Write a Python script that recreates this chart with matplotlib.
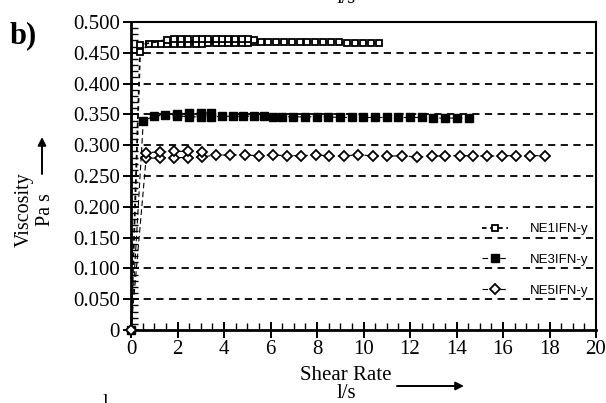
import matplotlib
matplotlib.use("Agg")
import matplotlib.pyplot as plt
from matplotlib.lines import Line2D
from matplotlib.ticker import MultipleLocator, FixedLocator, FixedFormatter

# ---- measured viscosity (Pa s) vs shear rate (1/s) ----
ne1_rate = [0, 0.39, 0.77, 1.03, 1.29, 1.53, 1.86, 2.15, 2.46, 2.78, 3.07, 3.32, 3.64, 3.90,
            4.18, 4.47, 4.76, 5.04, 5.30, 5.58, 5.90, 6.23, 6.57, 6.91, 7.25, 7.59, 7.93,
            8.27, 8.61, 8.95, 9.29, 9.63, 9.97, 10.31, 10.65]
ne1_visc = [0, 0.451, 0.464, 0.464, 0.464, 0.465, 0.465, 0.465, 0.465, 0.465, 0.465, 0.466,
            0.466, 0.466, 0.466, 0.466, 0.466, 0.466, 0.467, 0.467, 0.467, 0.467, 0.468,
            0.468, 0.468, 0.468, 0.468, 0.467, 0.467, 0.467, 0.466, 0.466, 0.466, 0.466, 0.466]
ne1_back_rate = [5.30, 5.04, 4.76, 4.47, 4.18, 3.90, 3.64, 3.32, 3.07, 2.78, 2.46, 2.15,
                 1.86, 1.53, 0.39]
ne1_back_visc = [0.471, 0.472, 0.472, 0.472, 0.473, 0.473, 0.473, 0.473, 0.472, 0.473,
                 0.472, 0.472, 0.472, 0.471, 0.463]

ne3_rate = [0, 0.53, 1.0, 1.48, 1.98, 2.5, 3.0, 3.45, 3.92, 4.38, 4.83, 5.28, 5.7, 6.1, 6.5,
            6.97, 7.48, 8.0, 8.47, 8.99, 9.5, 9.98, 10.49, 11.0, 11.48, 12.0, 12.52, 12.99,
            13.5, 14.02, 14.52]
ne3_visc = [0, 0.340, 0.347, 0.349, 0.348, 0.346, 0.346, 0.346, 0.347, 0.347, 0.347, 0.347,
            0.347, 0.346, 0.346, 0.346, 0.346, 0.346, 0.346, 0.345, 0.345, 0.345, 0.345,
            0.345, 0.345, 0.345, 0.345, 0.344, 0.344, 0.344, 0.344]
ne3_back_rate = [3.45, 3.0, 2.5, 1.98]
ne3_back_visc = [0.352, 0.353, 0.352, 0.351]

ne5_rate = [0, 0.65, 1.25, 1.85, 2.45, 3.05, 3.65, 4.25, 4.9, 5.5, 6.12, 6.72, 7.32, 7.94,
            8.5, 9.16, 9.78, 10.4, 11.0, 11.64, 12.28, 12.93, 13.5, 14.15, 14.72, 15.32,
            15.94, 16.56, 17.16, 17.8]
ne5_visc = [0, 0.279, 0.279, 0.280, 0.280, 0.281, 0.284, 0.284, 0.284, 0.283, 0.284, 0.283,
            0.283, 0.284, 0.283, 0.283, 0.284, 0.283, 0.282, 0.283, 0.281, 0.282, 0.283,
            0.283, 0.283, 0.282, 0.283, 0.283, 0.283, 0.283]
ne5_back_rate = [3.05, 2.45, 1.85, 1.25, 0.65]
ne5_back_visc = [0.289, 0.290, 0.290, 0.289, 0.288]

series_labels = ["NE1IFN-y", "NE3IFN-y", "NE5IFN-y"]
x_ticks = [0, 2, 4, 6, 8, 10, 12, 14, 16, 18, 20]
y_ticks = [0, 0.05, 0.10, 0.15, 0.20, 0.25, 0.30, 0.35, 0.40, 0.45, 0.50]
y_tick_labels = ["0", "0.050", "0.100", "0.150", "0.200", "0.250", "0.300", "0.350",
                 "0.400", "0.450", "0.500"]

SERIF = "Liberation Serif"
SANS = "Liberation Sans"
plt.rcParams["font.family"] = [SERIF, "DejaVu Serif"]

W, H = 606, 403
fig = plt.figure(figsize=(W / 100, H / 100), dpi=100)
ax = fig.add_axes([131 / W, 1 - 330 / H, (596 - 131) / W, (330 - 22) / H])

styles = [
    dict(marker="s", ms=4.6, mfc="white", mec="black", mew=1.3, color="black",
         lw=1.3, dashes=(2.5, 2.0)),
    dict(marker="s", ms=5.2, mfc="black", mec="black", mew=1.0, color="black",
         lw=0.8, dashes=(5, 3)),
    dict(marker="D", ms=4.6, mfc="white", mec="black", mew=1.3, color="black",
         lw=0.8, dashes=(5, 3)),
]
data = [
    (ne1_rate, ne1_visc, ne1_back_rate, ne1_back_visc),
    (ne3_rate, ne3_visc, ne3_back_rate, ne3_back_visc),
    (ne5_rate, ne5_visc, ne5_back_rate, ne5_back_visc),
]
for (xr, yr, xb, yb), st in zip(data, styles):
    ax.plot(xr, yr, clip_on=False, zorder=3, **st)
    ax.plot(xb, yb, clip_on=False, zorder=3, **st)

ax.set_xlim(0, 20)
ax.set_ylim(0, 0.5)
ax.xaxis.set_major_locator(FixedLocator(x_ticks))
ax.xaxis.set_minor_locator(MultipleLocator(0.5))
ax.yaxis.set_major_locator(FixedLocator(y_ticks))
ax.yaxis.set_major_formatter(FixedFormatter(y_tick_labels))
ax.yaxis.set_minor_locator(MultipleLocator(0.01))

ax.tick_params(which="major", direction="inout", length=11, width=1.4, labelsize=15,
               colors="black")
ax.tick_params(axis="y", which="major", pad=2.5)
ax.tick_params(axis="x", which="major", pad=2)
ax.tick_params(which="minor", direction="in", length=5, width=1.0)

for side in ("left", "bottom"):
    ax.spines[side].set_linewidth(2.0)
for side in ("top", "right"):
    ax.spines[side].set_linewidth(1.5)

ax.set_axisbelow(True)
for yv in y_ticks[1:-1]:
    ax.axhline(yv, color="black", lw=1.3, linestyle=(0, (4, 3)), zorder=1)

# legend
handles = [Line2D([], [], **st) for st in styles]
ax.legend(handles, series_labels, loc="upper left",
          bbox_to_anchor=(482 / W, 1 - 223 / H), bbox_transform=fig.transFigure,
          frameon=False, borderpad=0, borderaxespad=0, handlelength=2.0,
          handletextpad=1.6, labelspacing=1.4,
          prop=dict(family=SANS, size=9.5))

# axis titles with arrows
fig.text(24 / W, 1 - 210 / H, "Viscosity", rotation=90, ha="center", va="center",
         fontsize=14.5, family=SERIF)
fig.text(45 / W, 1 - 210 / H, "Pa s", rotation=90, ha="center", va="center",
         fontsize=14.5, family=SERIF)
fig.text(346 / W, 1 - 376 / H, "Shear Rate", ha="center", va="center",
         fontsize=15, family=SERIF)
fig.text(346 / W, 1 - 394 / H, "l/s", ha="center", va="center",
         fontsize=15, family=SERIF)
ax.annotate("", xy=(42, H - 137), xytext=(42, H - 174), xycoords="figure pixels",
            textcoords="figure pixels",
            arrowprops=dict(arrowstyle="-|>", color="black", lw=1.4, mutation_scale=12,
                            shrinkA=0, shrinkB=0))
ax.annotate("", xy=(464, H - 386), xytext=(397, H - 386), xycoords="figure pixels",
            textcoords="figure pixels",
            arrowprops=dict(arrowstyle="-|>", color="black", lw=1.4, mutation_scale=12,
                            shrinkA=0, shrinkB=0))

# panel letter and neighbouring panel captions at the page edges
fig.text(10 / W, 1 - 36 / H, "b)", ha="left", va="center", fontsize=22,
         fontweight="bold", family=SERIF)
fig.text(346 / W, 1 - 3 / H, "l/s", ha="center", va="baseline", fontsize=14.5, family=SERIF)
fig.text(105 / W, 1 - 394 / H, "l", ha="center", va="top", fontsize=14.5, family=SERIF)

fig.savefig("out.png", dpi=100)
